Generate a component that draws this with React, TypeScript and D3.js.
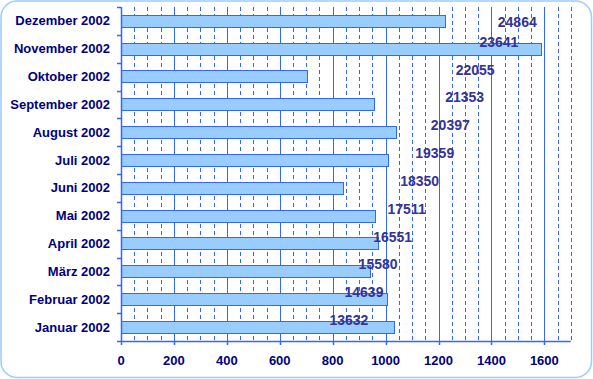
import React from "react";
import * as d3 from "d3";

const categories = [
  "Januar 2002", "Februar 2002", "März 2002", "April 2002", "Mai 2002", "Juni 2002",
  "Juli 2002", "August 2002", "September 2002", "Oktober 2002", "November 2002", "Dezember 2002",
];
const monthly = [1033, 1007, 941, 971, 960, 839, 1009, 1038, 956, 702, 1586, 1223];
const totals = [13632, 14639, 15580, 16551, 17511, 18350, 19359, 20397, 21353, 22055, 23641, 24864];
const xTicks = [0, 200, 400, 600, 800, 1000, 1200, 1400, 1600];

const W = 593, H = 379;
const L = 121, R = 570.8, T = 7, B = 341;

export default function App() {
  const x = d3.scaleLinear().domain([0, 1700]).range([L, R]);
  const x2 = d3.scaleLinear().domain([0, 30000]).range([L, R]);
  const px = (v: number) => Math.round(x(v)) + 0.5;
  const order = [...categories].reverse();
  const y = d3.scaleBand<string>().domain(order).range([T, B]).paddingInner(0.56).paddingOuter(0.28);
  const step = y.step();
  const minor = d3.range(50, 1701, 50).filter((v) => v % 200 !== 0);
  const major = xTicks.filter((v) => v > 0);
  const blue = "#3366FF";
  const navy = "#000080";
  return (
    <svg width={W} height={H} style={{ position: "absolute", left: 0, top: 0 }} fontFamily="Arial, 'Liberation Sans', sans-serif">
      <rect x={0} y={0} width={W} height={H} fill="#fff" />
      <rect x={1} y={1} width={W - 2.5} height={H - 2.5} rx={16} ry={16} fill="#fff" stroke="#99CCFF" strokeWidth={1.5} />
      {minor.map((v) => (
        <line key={"m" + v} x1={px(v)} x2={px(v)} y1={T} y2={B} stroke={blue} strokeWidth={1} strokeDasharray="4,3" />
      ))}
      {major.map((v) => (
        <line key={"M" + v} x1={px(v)} x2={px(v)} y1={T} y2={B} stroke={blue} strokeWidth={1} />
      ))}
      {categories.map((c, i) => (
        <rect key={c} x={Math.round(x(0)) + 0.5} y={Math.round(y(c)!) + 0.5} width={Math.round(x(monthly[i]) - x(0))} height={Math.round(y.bandwidth())}
          fill="#99CCFF" stroke={blue} strokeWidth={1} />
      ))}
      <line x1={L + 0.5} x2={L + 0.5} y1={T} y2={B} stroke={blue} strokeWidth={1.5} />
      <line x1={L} x2={R} y1={B + 0.5} y2={B + 0.5} stroke={blue} strokeWidth={1.5} />
      {d3.range(0, 13).map((i) => (
        <line key={"lt" + i} x1={L - 4} x2={L} y1={Math.round(T + i * step) + 0.5} y2={Math.round(T + i * step) + 0.5} stroke={blue} strokeWidth={1.5} />
      ))}
      {xTicks.map((v) => (
        <g key={"xt" + v}>
          <line x1={px(v)} x2={px(v)} y1={B} y2={B + 4} stroke={blue} strokeWidth={1.5} />
          <text x={x(v)} y={364.5} textAnchor="middle" fontSize={13} fontWeight="bold" fill={navy}>{v}</text>
        </g>
      ))}
      {categories.map((c) => (
        <text key={"cl" + c} x={110} y={y(c)! + y.bandwidth() / 2 + 4.5} textAnchor="end" fontSize={13} fontWeight="bold" fill={navy}>{c}</text>
      ))}
      {categories.map((c, i) => {
        const cy = Math.max(y(c)! + y.bandwidth() / 2 - 7, T + 14.5);
        return (
          <text key={"vl" + c} x={x2(totals[i]) + 4} y={cy + 5} textAnchor="start" fontSize={14} fontWeight="bold" fill="#333399">{totals[i]}</text>
        );
      })}
    </svg>
  );
}
